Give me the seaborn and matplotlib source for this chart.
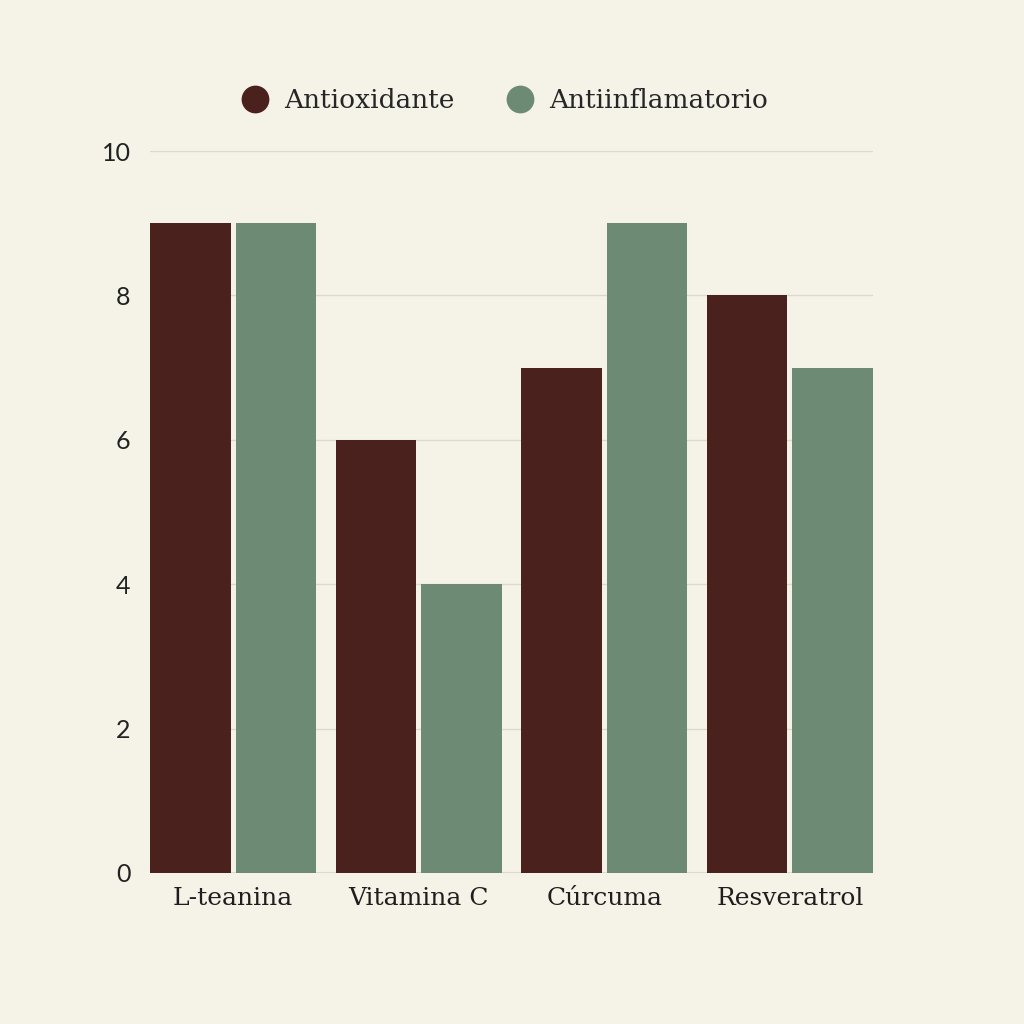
"""Antioxidant vs anti-inflammatory scores, grouped bar chart."""

import pandas as pd
import matplotlib.pyplot as plt
import matplotlib.lines as mlines
import seaborn as sns

compuestos = ["L-teanina", "Vitamina C", "Cúrcuma", "Resveratrol"]
antioxidante = [9, 6, 7, 8]
antiinflamatorio = [9, 4, 9, 7]
series = ["Antioxidante", "Antiinflamatorio"]
yticks = [0, 2, 4, 6, 8, 10]

BG = "#F5F2E7"
BROWN = "#4A211C"
GREEN = "#6D8B74"
GRID = "#DDDACD"

df = pd.DataFrame({
    "compuesto": compuestos * 2,
    "serie": [series[0]] * len(compuestos) + [series[1]] * len(compuestos),
    "valor": antioxidante + antiinflamatorio,
})

sns.set_theme(style="white")
plt.rcParams["font.family"] = ["Lato", "DejaVu Sans"]

fig = plt.figure(figsize=(10.24, 10.24), dpi=100, facecolor=BG)
ax = fig.add_axes([0.1465, 0.1475, 0.706, 0.705])
ax.set_facecolor(BG)

sns.barplot(data=df, x="compuesto", y="valor", hue="serie", order=compuestos,
            hue_order=series, palette=[BROWN, GREEN], width=0.92, gap=0.06,
            saturation=1, ax=ax, legend=False, edgecolor="none")

ax.set_ylim(0, 10)
ax.set_xlim(-0.4475, 3.4475)
ax.set_yticks(yticks)
ax.set_yticklabels([str(t) for t in yticks], fontsize=18, color="#222222")
ax.yaxis.grid(True, color=GRID, linewidth=1)
ax.set_axisbelow(True)
for s in ax.spines.values():
    s.set_visible(False)
ax.axhline(0, color=GRID, linewidth=1.5, zorder=0)
ax.tick_params(axis="y", length=0, pad=14)
ax.tick_params(axis="x", length=0, pad=10)
ax.set_xticks(range(len(compuestos)))
ax.set_xticklabels(compuestos, fontsize=18, color="#1E1E1E",
                   family=["DejaVu Serif"])
ax.set_xlabel("")
ax.set_ylabel("")

handles = [mlines.Line2D([], [], marker="o", linestyle="none", markersize=20,
                         markerfacecolor=c, markeredgecolor="none")
           for c in (BROWN, GREEN)]
fig.legend(handles, series, loc="center", bbox_to_anchor=(0.492, 0.902), ncol=2,
           frameon=False, handlelength=1.2, handletextpad=0.5, columnspacing=1.9,
           prop={"family": "DejaVu Serif", "size": 19})

fig.savefig("out.png", dpi=100, facecolor=BG)
